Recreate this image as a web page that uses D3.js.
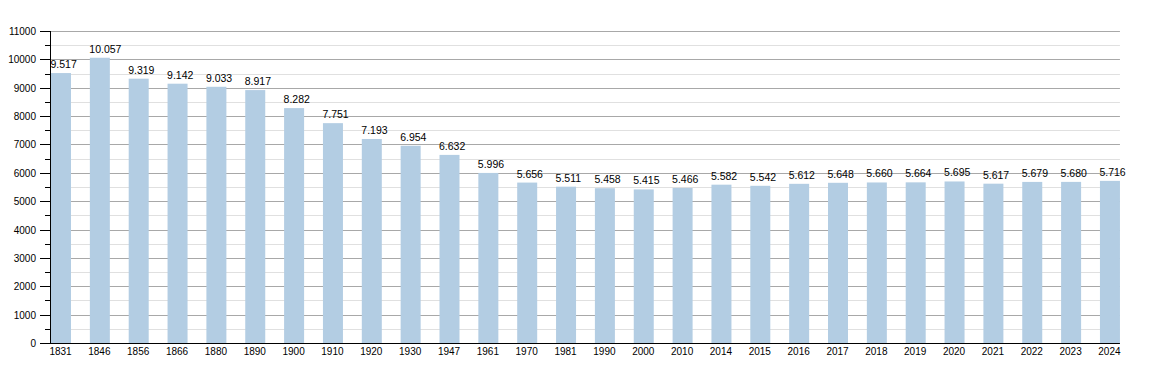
<!DOCTYPE html>
<html>
<head>
<meta charset="utf-8">
<script src="https://cdn.jsdelivr.net/npm/d3@7"></script>
<style>
  body { margin: 0; background: #fff; }
  svg { display: block; font-family: "Liberation Sans", Arial, sans-serif; }
</style>
</head>
<body>
<svg width="1150" height="373"></svg>
<script>
// census years and population
years = ["1831","1846","1856","1866","1880","1890","1900","1910","1920","1930","1947","1961","1970","1981","1990","2000","2010","2014","2015","2016","2017","2018","2019","2020","2021","2022","2023","2024"];
population = [9517,10057,9319,9142,9033,8917,8282,7751,7193,6954,6632,5996,5656,5511,5458,5415,5466,5582,5542,5612,5648,5660,5664,5695,5617,5679,5680,5716];
labels = ["9.517","10.057","9.319","9.142","9.033","8.917","8.282","7.751","7.193","6.954","6.632","5.996","5.656","5.511","5.458","5.415","5.466","5.582","5.542","5.612","5.648","5.660","5.664","5.695","5.617","5.679","5.680","5.716"];
yTicks = [0,1000,2000,3000,4000,5000,6000,7000,8000,9000,10000,11000];
yMinor = [500,1500,2500,3500,4500,5500,6500,7500,8500,9500,10500];

left = 50;
step = 38.85;
barW = 21;

x = d3.scaleBand()
    .domain(years)
    .range([left, left + step * years.length])
    .padding(0);

y = d3.scaleLinear()
    .domain([0, 11000])
    .range([343, 31]);

right = x(years[years.length - 1]) + barW;

function draw() {
  const svg = d3.select("svg");

  // minor grid
  svg.append("g")
    .selectAll("line")
    .data(yMinor)
    .join("line")
      .attr("x1", left).attr("x2", right)
      .attr("y1", d => Math.round(y(d)) + 0.5).attr("y2", d => Math.round(y(d)) + 0.5)
      .attr("stroke", "#e0e0e0");

  // major grid
  svg.append("g")
    .selectAll("line")
    .data(yTicks.slice(1))
    .join("line")
      .attr("x1", left).attr("x2", right)
      .attr("y1", d => Math.round(y(d)) + 0.5).attr("y2", d => Math.round(y(d)) + 0.5)
      .attr("stroke", "#a8a8a8");

  // bars
  svg.append("g")
    .selectAll("rect")
    .data(population)
    .join("rect")
      .attr("x", (d, i) => x(years[i]) + 1)
      .attr("y", d => y(d))
      .attr("width", barW - 1)
      .attr("height", d => y(0) - y(d))
      .attr("fill", "#b3cde3");

  // value labels, left aligned on the bar
  svg.append("g")
    .style("font-size", "10.5px")
    .attr("text-anchor", "start")
    .selectAll("text")
    .data(population)
    .join("text")
      .attr("x", (d, i) => x(years[i]) + 0.5)
      .attr("y", d => y(d) - 5)
      .attr("fill", "#000")
      .text((d, i) => labels[i]);

  // y axis ticks
  const ya = svg.append("g");
  ya.selectAll("line.maj")
    .data(yTicks)
    .join("line")
      .attr("x1", left - 10).attr("x2", left)
      .attr("y1", d => Math.round(y(d)) + 0.5).attr("y2", d => Math.round(y(d)) + 0.5)
      .attr("stroke", "#000");
  ya.selectAll("line.min")
    .data(yMinor)
    .join("line")
      .attr("x1", left - 5).attr("x2", left)
      .attr("y1", d => Math.round(y(d)) + 0.5).attr("y2", d => Math.round(y(d)) + 0.5)
      .attr("stroke", "#000");
  ya.selectAll("text")
    .data(yTicks)
    .join("text")
      .attr("x", left - 14)
      .attr("y", d => y(d) + 4)
      .attr("text-anchor", "end")
      .style("font-size", "10px")
      .text(d => d);

  // axis lines
  svg.append("line")
    .attr("x1", left + 0.5).attr("x2", left + 0.5)
    .attr("y1", y(11000)).attr("y2", y(0) + 1)
    .attr("stroke", "#000");
  svg.append("line")
    .attr("x1", left).attr("x2", right)
    .attr("y1", y(0) + 0.5).attr("y2", y(0) + 0.5)
    .attr("stroke", "#000");

  // x labels
  svg.append("g")
    .style("font-size", "10px")
    .attr("text-anchor", "middle")
    .selectAll("text")
    .data(years)
    .join("text")
      .attr("x", d => x(d) + barW / 2)
      .attr("y", y(0) + 12)
      .text(d => d);
}
draw();
</script>
</body>
</html>
